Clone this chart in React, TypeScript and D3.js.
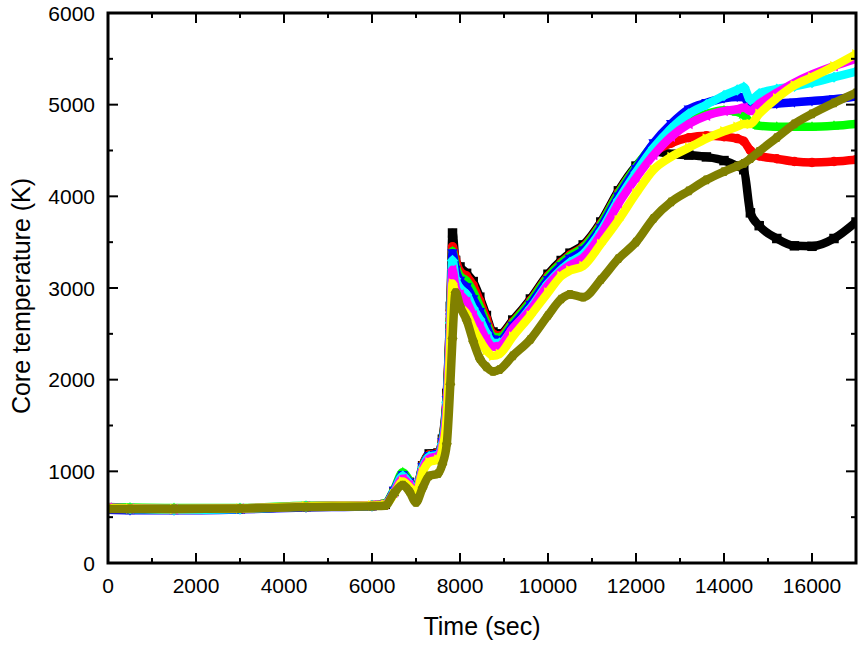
import React from "react";
import * as d3 from "d3";

const times = [0, 500, 1500, 3000, 4500, 6000, 6300, 6500, 6700, 6850, 7000, 7150, 7300, 7500, 7600, 7700, 7780, 7830, 7900, 8000, 8150, 8300, 8450, 8600, 8750, 8900, 9200, 9600, 10000, 10300, 10500, 10800, 11200, 11600, 12000, 12400, 12800, 13200, 13600, 14000, 14300, 14450, 14600, 14800, 15200, 15600, 16000, 16500, 17000];

const blackVals = [590, 585, 585, 590, 615, 625, 640, 780, 950, 880, 790, 1060, 1190, 1200, 1350, 1850, 2800, 3600, 3300, 3230, 3160, 3070, 2900, 2700, 2520, 2500, 2650, 2880, 3150, 3300, 3380, 3470, 3720, 4060, 4330, 4490, 4460, 4450, 4430, 4390, 4330, 4290, 3820, 3680, 3540, 3460, 3455, 3540, 3720];
const redVals = [600, 590, 590, 595, 620, 630, 645, 790, 960, 890, 800, 1070, 1180, 1200, 1340, 1820, 2750, 3450, 3320, 3180, 3130, 3030, 2860, 2670, 2500, 2480, 2630, 2860, 3130, 3280, 3360, 3450, 3700, 4040, 4310, 4480, 4580, 4640, 4660, 4650, 4630, 4600, 4500, 4440, 4410, 4380, 4370, 4380, 4400];
const greenVals = [610, 605, 600, 600, 625, 630, 650, 800, 990, 900, 800, 1060, 1170, 1190, 1330, 1800, 2700, 3400, 3250, 3130, 3080, 2960, 2800, 2620, 2470, 2460, 2620, 2850, 3120, 3270, 3350, 3440, 3690, 4030, 4320, 4570, 4730, 4820, 4900, 4940, 4920, 4890, 4800, 4770, 4760, 4760, 4760, 4770, 4790];
const blueVals = [580, 575, 575, 585, 605, 620, 640, 790, 960, 880, 790, 1050, 1170, 1190, 1320, 1780, 2680, 3380, 3200, 3080, 3010, 2880, 2740, 2580, 2440, 2430, 2590, 2820, 3090, 3240, 3320, 3410, 3660, 4000, 4300, 4580, 4790, 4950, 5020, 5070, 5085, 5080, 4990, 5000, 5010, 5025, 5040, 5060, 5090];
const cyanVals = [595, 590, 580, 590, 615, 625, 640, 780, 950, 870, 785, 1040, 1160, 1180, 1300, 1750, 2620, 3300, 3100, 3000, 2930, 2780, 2660, 2510, 2400, 2400, 2550, 2780, 3050, 3200, 3280, 3370, 3620, 3960, 4260, 4530, 4740, 4900, 5000, 5100, 5160, 5190, 5050, 5120, 5170, 5200, 5240, 5300, 5360];
const magentaVals = [605, 595, 590, 595, 620, 630, 640, 770, 920, 850, 780, 1020, 1140, 1170, 1280, 1700, 2550, 3200, 3000, 2930, 2850, 2700, 2580, 2440, 2360, 2370, 2560, 2760, 3030, 3180, 3250, 3330, 3580, 3920, 4200, 4450, 4650, 4790, 4880, 4930, 4950, 4970, 4930, 5010, 5130, 5240, 5330, 5420, 5500];
const yellowVals = [600, 595, 590, 595, 620, 628, 635, 750, 890, 830, 760, 990, 1100, 1130, 1240, 1600, 2400, 3050, 2900, 2800, 2720, 2560, 2430, 2320, 2260, 2280, 2470, 2700, 2950, 3130, 3190, 3240, 3480, 3740, 4030, 4290, 4430, 4530, 4630, 4710, 4760, 4790, 4790, 4900, 5070, 5210, 5300, 5420, 5550];
const oliveVals = [590, 590, 590, 595, 610, 620, 625, 760, 850, 780, 660, 820, 950, 975, 1080, 1300, 1950, 2450, 2950, 2800, 2650, 2420, 2230, 2140, 2090, 2110, 2260, 2440, 2700, 2880, 2930, 2900, 3090, 3320, 3500, 3760, 3940, 4060, 4180, 4270, 4330, 4360, 4410, 4490, 4640, 4790, 4900, 5020, 5130];

const seriesColors = ["#000000", "#ff0000", "#00ff00", "#0000ff", "#00ffff", "#ff00ff", "#ffff00", "#808000"];
const seriesSymbols = ["square", "circle", "triUp", "triDown", "diamond", "triLeft", "triRight", "hexagon"];
const seriesValues = [blackVals, redVals, greenVals, blueVals, cyanVals, magentaVals, yellowVals, oliveVals];

const xTicks = [0, 2000, 4000, 6000, 8000, 10000, 12000, 14000, 16000];
const yTicks = [0, 1000, 2000, 3000, 4000, 5000, 6000];

const W = 864, H = 645;
const L = 108, R = 856, T = 13, B = 563;

function symbolPath(kind: string, cx: number, cy: number, s: number): string {
  const r = s / 2;
  const poly = (pts: [number, number][]) =>
    "M" + pts.map((p) => `${(cx + p[0]).toFixed(2)},${(cy + p[1]).toFixed(2)}`).join("L") + "Z";
  switch (kind) {
    case "square":
      return poly([[-r, -r], [r, -r], [r, r], [-r, r]]);
    case "circle":
      return `M${cx - r},${cy}a${r},${r} 0 1,0 ${2 * r},0a${r},${r} 0 1,0 ${-2 * r},0Z`;
    case "triUp":
      return poly([[0, -r * 1.15], [r * 1.1, r * 0.8], [-r * 1.1, r * 0.8]]);
    case "triDown":
      return poly([[0, r * 1.15], [r * 1.1, -r * 0.8], [-r * 1.1, -r * 0.8]]);
    case "diamond":
      return poly([[0, -r * 1.2], [r * 1.2, 0], [0, r * 1.2], [-r * 1.2, 0]]);
    case "triLeft":
      return poly([[-r * 1.15, 0], [r * 0.8, -r * 1.1], [r * 0.8, r * 1.1]]);
    case "triRight":
      return poly([[r * 1.15, 0], [-r * 0.8, -r * 1.1], [-r * 0.8, r * 1.1]]);
    default: {
      const pts: [number, number][] = [];
      for (let i = 0; i < 6; i++) {
        const a = (Math.PI / 3) * i;
        pts.push([r * 1.05 * Math.cos(a), r * 1.05 * Math.sin(a)]);
      }
      return poly(pts);
    }
  }
}

export default function App() {
  const x = d3.scaleLinear().domain([0, 17000]).range([L, R]);
  const y = d3.scaleLinear().domain([0, 6000]).range([B, T]);
  const line = d3
    .line<number>()
    .x((_, i) => x(times[i]))
    .y((v) => y(v))
    .curve(d3.curveMonotoneX);

  const xMinor = d3.range(1000, 17000, 2000);
  const yMinor = d3.range(500, 6000, 1000);
  const font = "Arial, 'Liberation Sans', Helvetica, sans-serif";

  return (
    <svg
      width={W}
      height={H}
      viewBox={`0 0 ${W} ${H}`}
      style={{ position: "absolute", left: 0, top: 0, background: "#fff" }}
    >
      <rect x={0} y={0} width={W} height={H} fill="#fff" />
      <defs>
        <clipPath id="plotclip">
          <rect x={L} y={T - 20} width={R - L} height={B - T + 20} />
        </clipPath>
      </defs>
      <g clipPath="url(#plotclip)">
        {seriesValues.map((vals, si) => (
          <g key={si}>
            <path
              d={line(vals) || ""}
              fill="none"
              stroke={seriesColors[si]}
              strokeWidth={8.5}
              strokeLinejoin="round"
              strokeLinecap="round"
            />
            {vals.map((v, i) => (
              <path
                key={i}
                d={symbolPath(seriesSymbols[si], x(times[i]), y(v), 9.5)}
                fill={seriesColors[si]}
              />
            ))}
          </g>
        ))}
      </g>
      <rect x={L} y={T} width={R - L} height={B - T} fill="none" stroke="#000" strokeWidth={3} />
      {xTicks.map((t) => (
        <g key={"xt" + t}>
          <line x1={x(t)} x2={x(t)} y1={B} y2={B - 10} stroke="#000" strokeWidth={2} />
          <line x1={x(t)} x2={x(t)} y1={T} y2={T + 10} stroke="#000" strokeWidth={2} />
          <text x={x(t)} y={593} textAnchor="middle" fontFamily={font} fontSize={21} fill="#000">
            {t}
          </text>
        </g>
      ))}
      {xMinor.map((t) => (
        <g key={"xm" + t}>
          <line x1={x(t)} x2={x(t)} y1={B} y2={B - 5} stroke="#000" strokeWidth={2} />
          <line x1={x(t)} x2={x(t)} y1={T} y2={T + 5} stroke="#000" strokeWidth={2} />
        </g>
      ))}
      {yTicks.map((t) => (
        <g key={"yt" + t}>
          <line x1={L} x2={L + 10} y1={y(t)} y2={y(t)} stroke="#000" strokeWidth={2} />
          <line x1={R} x2={R - 10} y1={y(t)} y2={y(t)} stroke="#000" strokeWidth={2} />
          <text x={95} y={y(t)} dy="0.36em" textAnchor="end" fontFamily={font} fontSize={21} fill="#000">
            {t}
          </text>
        </g>
      ))}
      {yMinor.map((t) => (
        <g key={"ym" + t}>
          <line x1={L} x2={L + 5} y1={y(t)} y2={y(t)} stroke="#000" strokeWidth={2} />
          <line x1={R} x2={R - 5} y1={y(t)} y2={y(t)} stroke="#000" strokeWidth={2} />
        </g>
      ))}
      <text x={(L + R) / 2} y={635} textAnchor="middle" fontFamily={font} fontSize={25} fill="#000">
        Time (sec)
      </text>
      <text
        transform={`translate(30, 296) rotate(-90)`}
        textAnchor="middle"
        fontFamily={font}
        fontSize={25}
        fill="#000"
      >
        Core temperature (K)
      </text>
    </svg>
  );
}
